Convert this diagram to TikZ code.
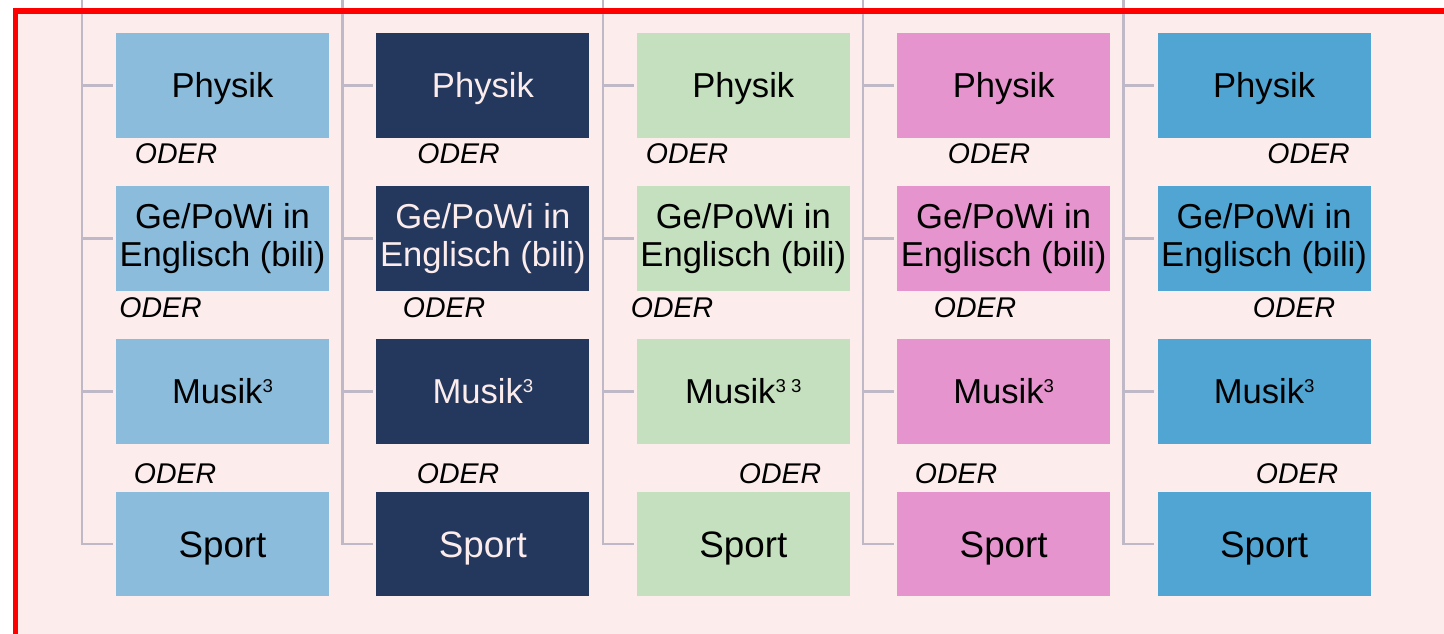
\documentclass[tikz,border=0pt]{standalone}
\usepackage{fontspec}
\setmainfont{Liberation Sans}
\definecolor{bgpink}{HTML}{FCEDEC}
\definecolor{linec}{HTML}{BFB8C6}
\definecolor{cA}{HTML}{8BBCDB}
\definecolor{cB}{HTML}{24385D}
\definecolor{cC}{HTML}{C5E0BE}
\definecolor{cD}{HTML}{E594CD}
\definecolor{cE}{HTML}{51A5D3}
\definecolor{frame}{HTML}{FF0000}
\newcommand{\supthree}{\raisebox{11.8pt}{\fontsize{18.6}{18.6}\selectfont 3}}
\begin{document}
\begin{tikzpicture}[x=1pt,y=-1pt,
  box/.style={rectangle, minimum width=213pt, minimum height=104.4pt, inner sep=0pt,
    align=center, font=\fontsize{34.6}{38}\selectfont},
  one/.style={text height=24.9pt, text depth=0pt},
  sportbox/.style={font=\fontsize{36.8}{38}\selectfont, text height=26.3pt, text depth=0pt},
  oder/.style={anchor=base, inner sep=0pt, font=\fontsize{28.5}{30}\selectfont\itshape},
  link/.style={draw=linec, line width=2.5pt},
  redframe/.style={draw=frame, line width=5.5pt},
]
\useasboundingbox (0,0) rectangle (1444,633);
\fill[white] (0,0) rectangle (1444,633);
\fill[bgpink] (15.5,11) rectangle (1460,650);

\foreach \c/\fc/\tc in {1/cA/black, 2/cB/bgpink, 3/cC/black, 4/cD/black, 5/cE/black} {
  \pgfmathsetmacro\xc{116+260.4*(\c-1)+106.5}
  \pgfmathsetmacro\xl{116+260.4*(\c-1)-34}
  \coordinate (t\c) at (\xl,0);
  \node[box, one, fill=\fc, text=\tc] (b\c-1) at (\xc,85.5) {Physik};
  \node[box, fill=\fc, text=\tc] (b\c-2) at (\xc,238.5) {Ge/PoWi in\\Englisch (bili)};
  \node[box, one, fill=\fc, text=\tc] (b\c-3) at (\xc,391.5)
    {Musik\supthree\ifnum\c=3 {\fontsize{18.6}{18.6}\selectfont\ }\supthree\fi};
  \node[box, sportbox, fill=\fc, text=\tc] (b\c-4) at (\xc,544) {Sport};
  \draw[link] (t\c) |- ([xshift=-3pt]b\c-4.west);
  \foreach \r in {1,2,3} {
    \draw[link] (t\c |- b\c-\r.west) -- ([xshift=-3pt]b\c-\r.west);
  }
}

% ODER labels
\foreach \x [count=\c] in {176,458.5,687,989,1308.5}
  \node[oder] (o\c-1) at (\x,163.5) {ODER};
\foreach \x [count=\c] in {160.5,444,672,975,1294}
  \node[oder] (o\c-2) at (\x,317) {ODER};
\foreach \x [count=\c] in {175,458,780,956,1297}
  \node[oder] (o\c-3) at (\x,483) {ODER};

\draw[redframe] (15.5,650) -- (15.5,11) -- (1460,11);
\end{tikzpicture}
\end{document}
